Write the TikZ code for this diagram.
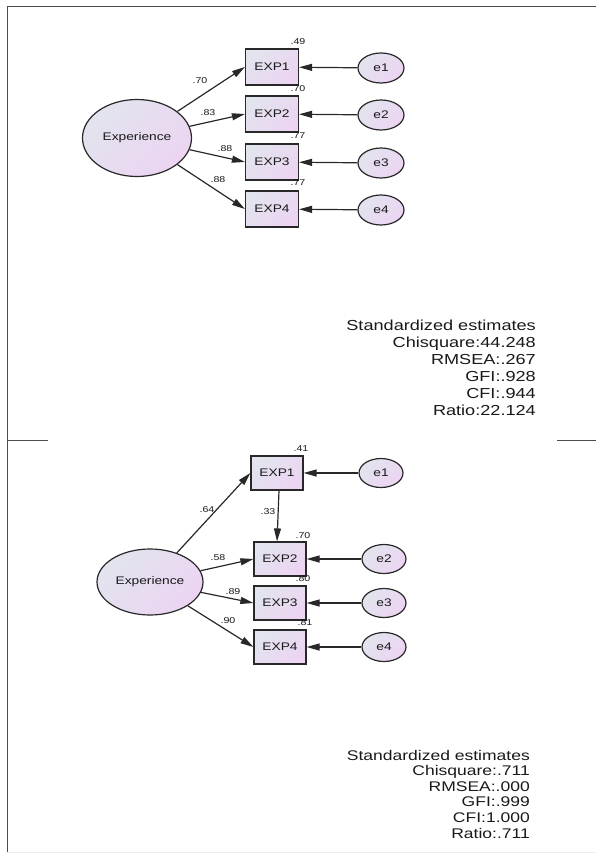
\documentclass[tikz,border=0pt]{standalone}
\usepackage{fontspec}
\setmainfont[FakeStretch=1.25]{Liberation Sans}
\usetikzlibrary{arrows.meta, shapes.geometric, positioning}
\definecolor{semline}{RGB}{40,40,40}
\definecolor{semblue}{RGB}{226,228,238}
\definecolor{sempink}{RGB}{236,212,242}

\begin{document}
\begin{tikzpicture}[
	x=1pt, y=-1pt,
	font=\fontsize{11}{13}\selectfont,
	text=black!90,
	>={Triangle[length=13pt, width=7pt]},
	% Style for the latent factor
	latent/.style={ellipse, draw=semline, line width=1.2pt, top color=semblue, bottom color=sempink, shading angle=45, inner sep=0pt},
	% Style for observed items
	item/.style={rectangle, draw=semline, line width=1.2pt, top color=semblue, bottom color=sempink, shading angle=45, inner sep=0pt},
	% Style for error terms
	err/.style={ellipse, draw=semline, line width=1.2pt, top color=semblue, bottom color=sempink, shading angle=45, inner sep=0pt},
	% Style for coefficients and fit statistics
	coef/.style={font=\fontsize{8.5}{10}\selectfont, inner sep=0pt},
	stat/.style={inner sep=0pt, anchor=base east},
	loading/.style={->, draw=semline, line width=1.2pt}
	]
	
	% 1. Page frame
	\useasboundingbox (0,0) rectangle (596,853);
	\draw[gray!60!black, line width=1pt] (596,7) -- (7,7) -- (7,853);
	\draw[gray!60!black, line width=1pt] (7,440) -- (48,440);
	\draw[gray!60!black, line width=1pt] (557,440) -- (596,440);
	\draw[gray!15, line width=0.8pt] (7,852) -- (596,852);
	
	% 2. First model
	\node[latent, minimum width=109pt, minimum height=77pt] (F1) at (137,138) {Experience};
	\foreach \i/\y in {1/67,2/114,3/162,4/209} {
		\node[item, minimum width=53pt, minimum height=36pt] (A\i) at (272,\y) {EXP\i};
		\node[err, minimum width=46pt, minimum height=30pt] (eA\i) at (381,\y+1) {e\i};
		\draw[loading] (eA\i) -- (A\i);
		\draw[loading] (F1) -- (A\i.west);
	}
	% Loadings and squared multiple correlations
	\node[coef] at (200,81) {.70};
	\node[coef] at (208,113) {.83};
	\node[coef] at (225,149) {.88};
	\node[coef] at (218,180) {.88};
	\node[coef] at (298,42) {.49};
	\node[coef] at (298,89) {.70};
	\node[coef] at (298,136) {.77};
	\node[coef] at (298,183) {.77};
	
	% Fit statistics
	\foreach \t [count=\k] in {Standardized estimates, Chisquare:44.248, RMSEA:.267, GFI:.928, CFI:.944, Ratio:22.124}
		\node[stat, font=\fontsize{14.5}{17}\selectfont] at (536,330+17*\k-17) {\t};
	
	% 3. Second model (with EXP1 -> EXP2 path)
	\node[latent, minimum width=106pt, minimum height=66pt] (F2) at (150,582) {Experience};
	\foreach \i/\x/\y in {1/277/473,2/280/559,3/280/603,4/280/647} {
		\node[item, minimum width=52pt, minimum height=34pt] (B\i) at (\x,\y) {EXP\i};
		\node[err, minimum width=44pt, minimum height=29pt] (eB\i) at (\x+104,\y) {e\i};
		\draw[loading] (eB\i) -- (B\i);
		\draw[loading] (F2) -- (B\i.west);
	}
	\draw[loading] ([xshift=2pt]B1.south) -- ([xshift=-3pt]B2.north);
	% Loadings and squared multiple correlations
	\node[coef] at (207,510) {.64};
	\node[coef] at (268,512) {.33};
	\node[coef] at (218,558) {.58};
	\node[coef] at (233,592) {.89};
	\node[coef] at (228,621) {.90};
	\node[coef] at (301,449) {.41};
	\node[coef] at (303,536) {.70};
	\node[coef] at (303,579) {.80};
	\node[coef] at (305,623) {.81};
	
	% Fit statistics
	\foreach \t [count=\k] in {Standardized estimates, Chisquare:.711, RMSEA:.000, GFI:.999, CFI:1.000, Ratio:.711}
		\node[stat, font=\fontsize{14}{16}\selectfont] at (530,760+15.6*\k-15.6) {\t};
	
\end{tikzpicture}
\end{document}
